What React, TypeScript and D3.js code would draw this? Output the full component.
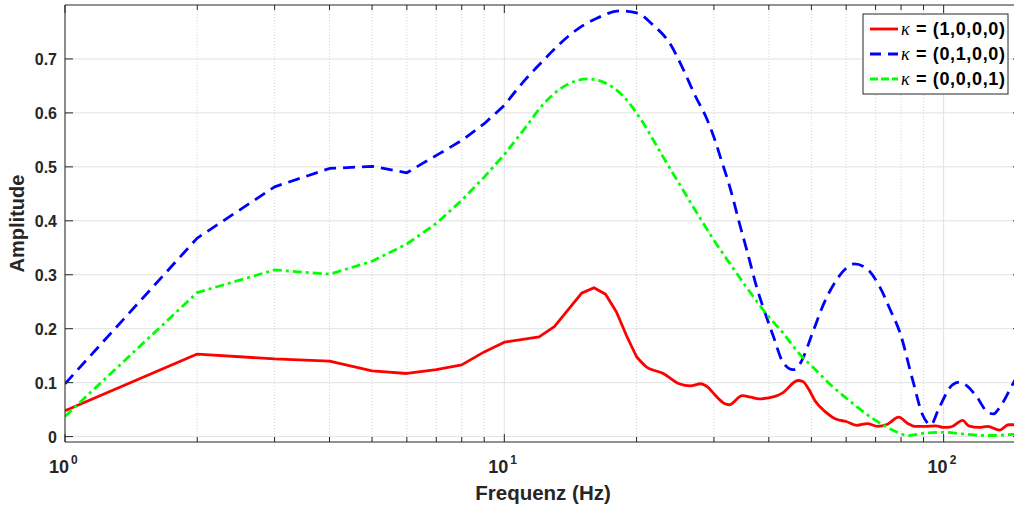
import React from "react";
import * as d3 from "d3";

// Frequencies (Hz) and amplitudes for each series
const redFreq = [1, 2, 3, 4, 5, 6, 7, 8, 9, 10, 12, 13, 15, 16, 17, 18, 19, 20, 21, 23, 25, 26.5, 28, 29, 30.1, 31.6, 32.5, 34.8, 36.4, 38, 41.5, 43, 46.6, 47.8, 49.3, 51, 54, 57, 60, 63.5, 67, 70.8, 74.5, 79, 83, 86, 90.5, 96, 100, 104, 110.5, 114, 120.5, 126, 134, 140.5, 150];
const redAmp = [0.048, 0.153, 0.144, 0.14, 0.122, 0.117, 0.124, 0.133, 0.157, 0.175, 0.185, 0.204, 0.266, 0.276, 0.264, 0.231, 0.186, 0.148, 0.13, 0.117, 0.098, 0.094, 0.098, 0.092, 0.078, 0.062, 0.059, 0.076, 0.073, 0.07, 0.075, 0.081, 0.104, 0.102, 0.088, 0.066, 0.045, 0.032, 0.028, 0.021, 0.024, 0.019, 0.023, 0.036, 0.024, 0.019, 0.019, 0.02, 0.017, 0.018, 0.03, 0.02, 0.017, 0.019, 0.012, 0.022, 0.022];

const blueFreq = [1, 2, 3, 4, 5, 6, 6.5, 7.1, 8, 9, 10, 11.2, 12.2, 13.3, 14.6, 16.2, 18.3, 20.1, 21.8, 23.8, 25.4, 27.3, 28.8, 30, 31.2, 32.6, 34.3, 35.8, 37.5, 39, 41, 43, 45.4, 47, 50.5, 53, 57, 60, 62.6, 66.7, 71.5, 75.5, 79.6, 85, 89.6, 93.5, 97.6, 104.7, 108.5, 112.6, 118.9, 126, 130, 133, 144, 150];
const blueAmp = [0.098, 0.368, 0.463, 0.497, 0.501, 0.489, 0.506, 0.524, 0.549, 0.58, 0.614, 0.663, 0.695, 0.726, 0.754, 0.775, 0.789, 0.785, 0.763, 0.729, 0.685, 0.629, 0.592, 0.555, 0.512, 0.463, 0.395, 0.34, 0.278, 0.235, 0.185, 0.139, 0.124, 0.134, 0.196, 0.241, 0.29, 0.312, 0.32, 0.312, 0.278, 0.236, 0.192, 0.105, 0.04, 0.022, 0.053, 0.096, 0.101, 0.095, 0.074, 0.045, 0.042, 0.05, 0.099, 0.125];

const greenFreq = [1, 2, 3, 4, 5, 6, 7, 8, 9, 10, 11.2, 12.2, 13.8, 15.5, 16.8, 18.6, 20.3, 23, 25, 27.8, 30, 32.6, 35.5, 40, 43, 47, 50.5, 56, 61.8, 70, 77.5, 83, 91.8, 100, 110, 125, 144, 150];
const greenAmp = [0.0375, 0.267, 0.309, 0.301, 0.325, 0.357, 0.395, 0.438, 0.481, 0.523, 0.574, 0.614, 0.651, 0.663, 0.657, 0.632, 0.592, 0.518, 0.469, 0.407, 0.364, 0.321, 0.278, 0.222, 0.193, 0.153, 0.128, 0.092, 0.063, 0.03, 0.01, 0.002, 0.007, 0.008, 0.005, 0.002, 0.004, 0.005];

const legendLabels = ["(1,0,0,0)", "(0,1,0,0)", "(0,0,0,1)"];
const yTicks = [0, 0.1, 0.2, 0.3, 0.4, 0.5, 0.6, 0.7];
const xMajorTicks = [1, 10, 100];
const xMinorTicks = [2, 3, 4, 5, 6, 7, 8, 9, 20, 30, 40, 50, 60, 70, 80, 90];

const W = 1014;
const H = 508;
const L = 65, R = 1021, T = 5, B = 442;
const AX = "#262626";

export default function App() {
  const x = d3.scaleLog().domain([1, 150]).range([L, R]);
  const y = d3.scaleLinear().domain([-0.01, 0.8]).range([B, T]);

  const mk = (fs: number[], as: number[]) => fs.map((f, i) => [f, as[i]] as [number, number]);
  const lineLin = d3.line<[number, number]>().x(d => x(d[0])).y(d => y(d[1]));
  const lineSmooth = d3.line<[number, number]>().x(d => x(d[0])).y(d => y(d[1])).curve(d3.curveMonotoneX);

  // straight up to split frequency, smooth afterwards, joined into one path
  const mixed = (pts: [number, number][], split: number) => {
    const lo = pts.filter(p => p[0] <= split);
    const hi = pts.filter(p => p[0] >= split);
    const a = lineLin(lo) as string;
    const b = (lineSmooth(hi) as string).replace(/^M[^A-Za-z]*/, "");
    return a + b;
  };

  const series = [
    { path: mixed(mk(redFreq, redAmp), 20), color: "#ff0000", dash: undefined as string | undefined, ldash: undefined as string | undefined },
    { path: mixed(mk(blueFreq, blueAmp), 10), color: "#0000ff", dash: "12,7", ldash: "11,7" },
    { path: mixed(mk(greenFreq, greenAmp), 10), color: "#00ff00", dash: "9,4,3,4", ldash: "8,3" },
  ];

  return (
    <svg width={W} height={H} style={{ position: "absolute", left: 0, top: 0, background: "#fff" }}
      fontFamily="'Liberation Sans', Arial, sans-serif">
      <defs>
        <clipPath id="plotclip">
          <rect x={L} y={T} width={R - L} height={B - T} />
        </clipPath>
      </defs>
      <rect x={0} y={0} width={W} height={H} fill="#fff" />
      {/* grid */}
      {xMinorTicks.map(v => (
        <line key={"mg" + v} x1={x(v)} x2={x(v)} y1={T} y2={B} stroke="#d4d4d4" strokeWidth={1} strokeDasharray="1,2" />
      ))}
      {xMajorTicks.map(v => (
        <line key={"xg" + v} x1={x(v)} x2={x(v)} y1={T} y2={B} stroke="#e2e2e2" strokeWidth={1} />
      ))}
      {yTicks.map(v => (
        <line key={"yg" + v} x1={L} x2={R} y1={y(v)} y2={y(v)} stroke="#e2e2e2" strokeWidth={1} />
      ))}
      {/* series */}
      <g clipPath="url(#plotclip)">
        {series.map((s, i) => (
          <path key={i} d={s.path} fill="none" stroke={s.color} strokeWidth={2.8}
            strokeDasharray={s.dash} strokeLinejoin="round" />
        ))}
      </g>
      {/* axes box */}
      <line x1={L} x2={R} y1={B} y2={B} stroke={AX} strokeWidth={1} />
      <line x1={L} x2={R} y1={T} y2={T} stroke={AX} strokeWidth={1} />
      <line x1={L} x2={L} y1={T} y2={B} stroke={AX} strokeWidth={1} />
      <line x1={R} x2={R} y1={T} y2={B} stroke={AX} strokeWidth={1} />
      {/* y ticks */}
      {yTicks.map(v => (
        <g key={"yt" + v}>
          <line x1={L} x2={L + 8} y1={y(v)} y2={y(v)} stroke={AX} />
          <line x1={R} x2={R - 8} y1={y(v)} y2={y(v)} stroke={AX} />
          <text x={57} y={y(v) + 6} textAnchor="end" fontSize={16} fontWeight="bold" fill={AX}>
            {v === 0 ? "0" : String(v)}
          </text>
        </g>
      ))}
      {/* x ticks */}
      {xMajorTicks.map((v, i) => (
        <g key={"xt" + v}>
          <line x1={x(v)} x2={x(v)} y1={B} y2={B - 8} stroke={AX} />
          <line x1={x(v)} x2={x(v)} y1={T} y2={T + 8} stroke={AX} />
          <text x={x(v) + 4} y={473} textAnchor="end" fontSize={18} fontWeight="bold" fill={AX}>10</text>
          <text x={x(v) + 6} y={464} textAnchor="start" fontSize={12} fontWeight="bold" fill={AX}>{String(i)}</text>
        </g>
      ))}
      {xMinorTicks.map(v => (
        <g key={"xm" + v}>
          <line x1={x(v)} x2={x(v)} y1={B} y2={B - 5} stroke={AX} />
          <line x1={x(v)} x2={x(v)} y1={T} y2={T + 5} stroke={AX} />
        </g>
      ))}
      {/* axis labels */}
      <text x={543} y={500} textAnchor="middle" fontSize={20.5} fontWeight="bold" fill={AX}>Frequenz (Hz)</text>
      <text transform={`translate(24,${(T + B) / 2}) rotate(-90)`} textAnchor="middle" fontSize={20} fontWeight="bold" fill={AX}>Amplitude</text>
      {/* legend */}
      <g>
        <rect x={863} y={14} width={145} height={80} fill="#fff" stroke={AX} strokeWidth={1} />
        {series.map((s, i) => {
          const ly = 29 + i * 25;
          return (
            <g key={"lg" + i}>
              <line x1={870} x2={898} y1={ly} y2={ly} stroke={s.color} strokeWidth={2.8}
                strokeDasharray={s.ldash} />
              <text x={901} y={ly + 6} fontSize={18} fontWeight="bold" fill="#000"
                textLength={104} lengthAdjust="spacing">
                <tspan fontFamily="'Liberation Serif', 'DejaVu Serif', serif" fontStyle="italic" fontWeight="normal">κ</tspan>
                <tspan> = {legendLabels[i]}</tspan>
              </text>
            </g>
          );
        })}
      </g>
    </svg>
  );
}
